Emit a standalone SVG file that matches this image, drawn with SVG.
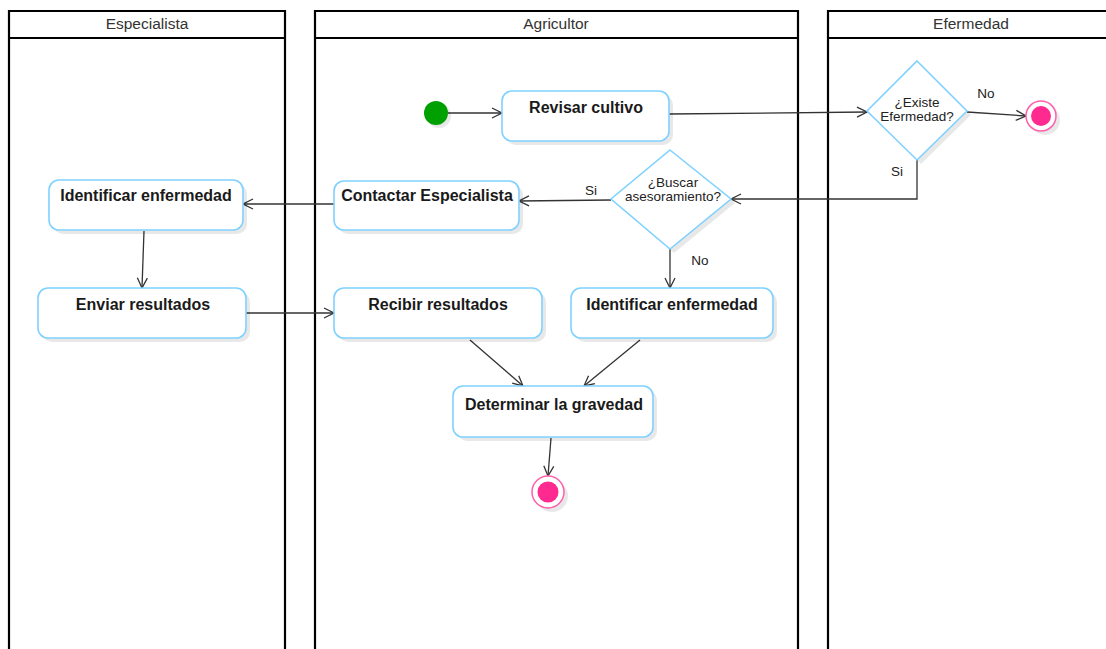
<svg xmlns="http://www.w3.org/2000/svg" width="1106" height="649" viewBox="0 0 1106 649">
<style>
.lane{fill:none;stroke:#000;stroke-width:2.2}
.lt{font-family:"Liberation Sans",Arial,sans-serif;font-size:15.5px;fill:#333;text-anchor:middle}
.node{fill:#fff;stroke:#7fd2ff;stroke-width:1.6}
.sh{fill:#000;opacity:0.09}
.nt{font-family:"Liberation Sans",Arial,sans-serif;font-size:16px;font-weight:bold;fill:#1a1a1a;text-anchor:middle}
.dt{font-family:"Liberation Sans",Arial,sans-serif;font-size:13.5px;fill:#222;text-anchor:middle}
.el{font-family:"Liberation Sans",Arial,sans-serif;font-size:13.5px;fill:#222;text-anchor:middle}
.edge{fill:none;stroke:#333;stroke-width:1.3;marker-end:url(#arr)}
</style>
<defs>
<marker id="arr" viewBox="0 0 12 12" refX="11" refY="6" markerWidth="12" markerHeight="12" markerUnits="userSpaceOnUse" orient="auto">
<path d="M1,1 L11,6 L1,11" fill="none" stroke="#333" stroke-width="1.3"/>
</marker>
</defs>
<rect width="1106" height="649" fill="#fff"/>
<g id="lane-especialista">
<path class="lane" d="M9,660 V11 H285 V660 M9,38 H285"/>
<text class="lt" x="147" y="29">Especialista</text>
</g>
<g id="lane-agricultor">
<path class="lane" d="M315,660 V11 H798 V660 M315,38 H798"/>
<text class="lt" x="556" y="29">Agricultor</text>
</g>
<g id="lane-efermedad">
<path class="lane" d="M828,660 V11 H1112 M828,38 H1112"/>
<text class="lt" x="971" y="29">Efermedad</text>
</g>
<g id="connectors">
<path class="edge" d="M448,113 L502,113"/>
<path class="edge" d="M669,114 L867,112"/>
<path class="edge" d="M967,112 L1026,116"/>
<text class="el" x="986" y="98">No</text>
<path class="edge" d="M917,160 V199 H731"/>
<text class="el" x="897" y="176">Si</text>
<path class="edge" d="M611,200 L519,201"/>
<text class="el" x="591" y="195">Si</text>
<path class="edge" d="M334,204 L243,204"/>
<path class="edge" d="M144,231 L142,288"/>
<path class="edge" d="M246,313 L334,313"/>
<path class="edge" d="M670,249 L670,288"/>
<text class="el" x="700" y="265">No</text>
<path class="edge" d="M470,340 L523,386"/>
<path class="edge" d="M640,340 L584,386"/>
<path class="edge" d="M551,438 L548,476"/>
</g>
<g id="start">
<circle cx="439" cy="116" r="12" class="sh"/>
<circle cx="436" cy="113" r="12" fill="#00a000"/>
</g>
<g id="revisar-cultivo">
<rect class="sh" x="506" y="95" width="167" height="50" rx="10"/>
<rect class="node" x="502" y="91" width="167" height="50" rx="10"/>
<text class="nt" x="586" y="113">Revisar cultivo</text>
</g>
<g id="existe-efermedad">
<path class="sh" d="M921,65 L971,115 L921,164 L871,115 Z"/>
<path class="node" d="M917,61 L967,111 L917,160 L867,111 Z"/>
<text class="dt" x="917" y="107">¿Existe</text>
<text class="dt" x="917" y="121">Efermedad?</text>
</g>
<g id="end-1">
<circle cx="1045" cy="120" r="15" class="sh"/>
<circle cx="1041" cy="116" r="15" fill="#fff" stroke="#ff5fae" stroke-width="1.5"/>
<circle cx="1041" cy="116" r="10" fill="#ff2a8f"/>
</g>
<g id="buscar-asesoramiento">
<path class="sh" d="M674,154 L735,203 L674,253 L615,203 Z"/>
<path class="node" d="M670,150 L731,199 L670,249 L611,199 Z"/>
<text class="dt" x="673" y="187">¿Buscar</text>
<text class="dt" x="673" y="201">asesoramiento?</text>
</g>
<g id="contactar-especialista">
<rect class="sh" x="338" y="185" width="185" height="49" rx="10"/>
<rect class="node" x="334" y="181" width="185" height="49" rx="10"/>
<text class="nt" x="427" y="201">Contactar Especialista</text>
</g>
<g id="identificar-enfermedad-esp">
<rect class="sh" x="53" y="184" width="194" height="50" rx="10"/>
<rect class="node" x="49" y="180" width="194" height="50" rx="10"/>
<text class="nt" x="146" y="201">Identificar enfermedad</text>
</g>
<g id="enviar-resultados">
<rect class="sh" x="42" y="292" width="208" height="50" rx="10"/>
<rect class="node" x="38" y="288" width="208" height="50" rx="10"/>
<text class="nt" x="143" y="310">Enviar resultados</text>
</g>
<g id="recibir-resultados">
<rect class="sh" x="338" y="292" width="208" height="50" rx="10"/>
<rect class="node" x="334" y="288" width="208" height="50" rx="10"/>
<text class="nt" x="438" y="310">Recibir resultados</text>
</g>
<g id="identificar-enfermedad-agr">
<rect class="sh" x="575" y="292" width="202" height="50" rx="10"/>
<rect class="node" x="571" y="288" width="202" height="50" rx="10"/>
<text class="nt" x="672" y="310">Identificar enfermedad</text>
</g>
<g id="determinar-gravedad">
<rect class="sh" x="457" y="390" width="200" height="51" rx="10"/>
<rect class="node" x="453" y="386" width="200" height="51" rx="10"/>
<text class="nt" x="554" y="410">Determinar la gravedad</text>
</g>
<g id="end-2">
<circle cx="552" cy="496" r="16" class="sh"/>
<circle cx="548" cy="492" r="16" fill="#fff" stroke="#ff5fae" stroke-width="1.5"/>
<circle cx="548" cy="492" r="10.5" fill="#ff2a8f"/>
</g>
</svg>
